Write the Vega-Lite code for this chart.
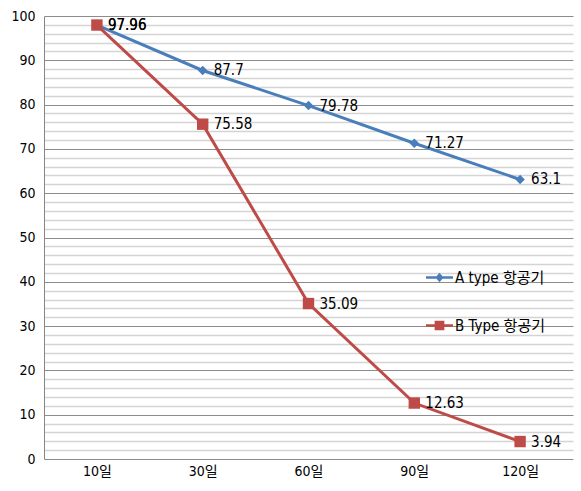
{
  "$schema": "https://vega.github.io/schema/vega-lite/v6.json",
  "autosize": {"type": "none"},
  "width": 529,
  "height": 443,
  "padding": {"left": 44, "top": 16, "right": 8, "bottom": 32},
  "background": "white",
  "config": {
    "view": {"stroke": null},
    "font": "DejaVu Sans Condensed"
  },
  "data": {
    "values": [
      {"day": "10일", "type": "A type 항공기", "value": 97.96},
      {"day": "30일", "type": "A type 항공기", "value": 87.7},
      {"day": "60일", "type": "A type 항공기", "value": 79.78},
      {"day": "90일", "type": "A type 항공기", "value": 71.27},
      {"day": "120일", "type": "A type 항공기", "value": 63.1},
      {"day": "10일", "type": "B Type 항공기", "value": 97.96},
      {"day": "30일", "type": "B Type 항공기", "value": 75.58},
      {"day": "60일", "type": "B Type 항공기", "value": 35.09},
      {"day": "90일", "type": "B Type 항공기", "value": 12.63},
      {"day": "120일", "type": "B Type 항공기", "value": 3.94}
    ]
  },
  "encoding": {
    "x": {
      "field": "day",
      "type": "ordinal",
      "sort": ["10일", "30일", "60일", "90일", "120일"],
      "scale": {"type": "point", "padding": 0.5},
      "axis": {
        "title": null,
        "labelAngle": 0,
        "ticks": false,
        "domain": false,
        "grid": false,
        "labelFont": "DejaVu Sans Condensed, Noto Sans CJK KR",
        "labelFontSize": 14,
        "labelColor": "#000000",
        "labelPadding": 5
      }
    },
    "y": {
      "field": "value",
      "type": "quantitative",
      "scale": {"domain": [0, 100], "nice": false, "zero": true},
      "axis": {
        "title": null,
        "values": [0, 2, 4, 6, 8, 10, 12, 14, 16, 18, 20, 22, 24, 26, 28, 30, 32, 34, 36, 38, 40, 42, 44, 46, 48, 50, 52, 54, 56, 58, 60, 62, 64, 66, 68, 70, 72, 74, 76, 78, 80, 82, 84, 86, 88, 90, 92, 94, 96, 98, 100],
        "labelExpr": "datum.value % 10 === 0 ? datum.label : ''",
        "ticks": false,
        "domain": true,
        "domainColor": "#868686",
        "grid": true,
        "gridColor": {"condition": {"test": "datum.value % 10 === 0", "value": "#8c8c8c"}, "value": "#d4d4d4"},
        "gridWidth": {"condition": {"test": "datum.value % 10 === 0", "value": 1}, "value": 1.6},
        "labelFont": "DejaVu Sans Condensed",
        "labelFontSize": 14,
        "labelColor": "#000000",
        "labelPadding": 9
      }
    },
    "color": {
      "field": "type",
      "type": "nominal",
      "scale": {"domain": ["A type 항공기", "B Type 항공기"], "range": ["#4A7EBB", "#BE4B48"]},
      "legend": {
        "title": null,
        "orient": "none",
        "legendX": 382,
        "legendY": 248,
        "rowPadding": 26,
        "symbolSize": 729,
        "symbolStrokeWidth": 0,
        "labelOffset": 2,
        "labelFont": "DejaVu Sans Condensed, Noto Sans CJK KR",
        "labelFontSize": 15,
        "labelColor": "#000000",
        "encode": {
          "symbols": {
            "update": {
              "shape": {"signal": "datum.value === 'A type 항공기' ? 'M-1,-0.1H1V0.1H-1Z M0,-0.36L0.3,0L0,0.36L-0.3,0Z' : 'M-1,-0.1H1V0.1H-1Z M-0.36,-0.36H0.36V0.36H-0.36Z'"},
              "fill": {"scale": "color", "field": "value"},
              "strokeWidth": {"value": 0}
            }
          }
        }
      }
    }
  },
  "layer": [
    {
      "mark": {"type": "line", "strokeWidth": 3}
    },
    {
      "transform": [{"filter": "datum.type === 'A type 항공기'"}],
      "mark": {"type": "point", "shape": "diamond", "size": 90, "filled": true, "opacity": 1}
    },
    {
      "transform": [{"filter": "datum.type === 'B Type 항공기'"}],
      "mark": {"type": "point", "shape": "square", "size": 130, "filled": true, "opacity": 1}
    },
    {
      "mark": {"type": "text", "align": "left", "baseline": "middle", "dx": 11, "fontSize": 15, "font": "DejaVu Sans Condensed", "color": "#000000"},
      "encoding": {
        "text": {"field": "value", "type": "quantitative"},
        "color": {"value": "#000000"}
      }
    }
  ]
}
